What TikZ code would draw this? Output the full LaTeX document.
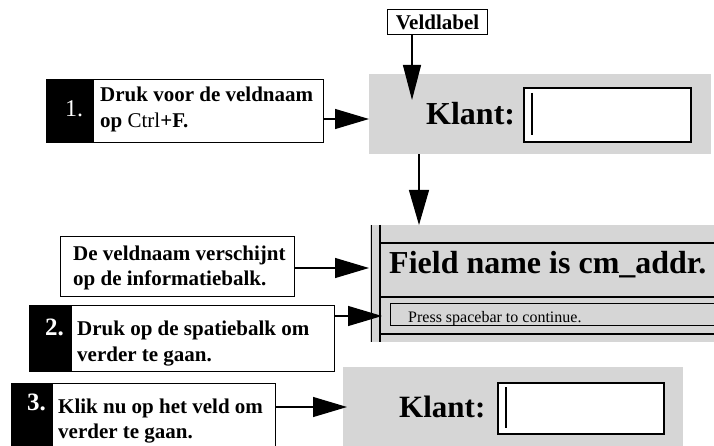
\documentclass[tikz,border=0pt]{standalone}
\usepackage{fontspec}
\setmainfont{Liberation Serif}
\usetikzlibrary{arrows.meta}
\definecolor{stip}{gray}{0.84}
\begin{document}
\begin{tikzpicture}[x=1pt,y=-1pt,
  bx/.style={draw=black, line width=1.2pt, fill=white, inner sep=0pt, anchor=north west},
  blk/.style={fill=black, draw=black, line width=1.2pt, inner sep=0pt, anchor=north west},
  gr/.style={fill=stip, inner sep=0pt, anchor=north west},
  fld/.style={draw=black, line width=1.6pt, fill=white, inner sep=0pt, anchor=north west},
  txt/.style={inner sep=0pt, anchor=base west, font=\fontsize{21}{25}\selectfont\bfseries},
  num/.style={inner sep=0pt, anchor=base west, text=white, font=\fontsize{25}{30}\selectfont\bfseries},
  big/.style={inner sep=0pt, anchor=base west, font=\fontsize{32}{38}\selectfont\bfseries},
  arr/.style={line width=1.2pt, -{Triangle[length=34pt,width=20pt]}},
  thin/.style={line width=1.3pt}
]
\useasboundingbox (0,0) rectangle (714,446);
\clip (0,0) rectangle (714,446);

% grey panels
\node[gr, minimum width=342pt, minimum height=80pt] (g1) at (369,74) {};
\node[gr, minimum width=344pt, minimum height=117pt] (ib) at (370,225) {};
\node[gr, minimum width=340pt, minimum height=82pt] (g3) at (343,367) {};

% Veldlabel
\node[bx, minimum width=100pt, minimum height=25pt, font=\fontsize{21}{25}\selectfont\bfseries, text depth=0pt] (vl) at (387,9) {Veldlabel};

% first Klant field
\node[big] (k1) at (426,125) {Klant:};
\node[fld, minimum width=167pt, minimum height=54pt] (f1) at (523,87) {};
\draw[thin] (532,93) -- (532,135);

% step 1
\node[blk, minimum width=47pt, minimum height=63pt] (b1k) at (46,79) {};
\node[bx, minimum width=230pt, minimum height=63pt] (b1) at (93,79) {};
\node[inner sep=0pt, anchor=base west, text=white, font=\fontsize{24}{28}\selectfont] (n1) at (65,117) {1.};
\node[txt] (t1a) at (100,102) {Druk voor de veldnaam};
\node[txt] (t1b) at (100,128) {op {\mdseries Ctrl}+F.};

% information bar
\draw[thin] (371.5,225) -- (371.5,342);
\draw[thin] (380,225) -- (380,342);
\draw[thin] (380,243) -- (714,243);
\draw[thin] (380,297) -- (714,297);
\draw[thin] (380,334) -- (714,334);
\node[draw=black, line width=1.4pt, inner sep=0pt, anchor=north west, minimum width=340pt, minimum height=22pt] (pb) at (390,303) {};
\node[big] (fn) at (389,273) {Field name is cm\_addr.};
\node[inner sep=0pt, anchor=base west, font=\fontsize{16}{19}\selectfont] (ps) at (408,322) {Press spacebar to continue.};

% De veldnaam box
\node[bx, minimum width=234pt, minimum height=60pt] (dv) at (60,236) {};
\node[txt] (dva) at (73,260) {De veldnaam verschijnt};
\node[txt] (dvb) at (73,285) {op de informatiebalk.};

% step 2
\node[blk, minimum width=42pt, minimum height=66pt] (b2k) at (29,305) {};
\node[bx, minimum width=263pt, minimum height=66pt] (b2) at (71,305) {};
\node[num] (n2) at (45,335) {2.};
\node[txt] (t2a) at (77,335) {Druk op de spatiebalk om};
\node[txt] (t2b) at (77,361) {verder te gaan.};

% step 3
\node[blk, minimum width=41pt, minimum height=70pt] (b3k) at (11,383) {};
\node[bx, minimum width=223pt, minimum height=70pt] (b3) at (52,383) {};
\node[num] (n3) at (27,410) {3.};
\node[txt] (t3a) at (58,413) {Klik nu op het veld om};
\node[txt] (t3b) at (58,438) {verder te gaan.};

% second Klant field
\node[big, font=\fontsize{31}{37}\selectfont\bfseries] (k3) at (399,417) {Klant:};
\node[fld, minimum width=166pt, minimum height=51pt] (f3) at (497,382) {};
\draw[thin] (506,387) -- (506,428);

% connectors
\coordinate (c0) at (412,100);
\draw[line width=1.2pt, -{Triangle[length=35pt,width=18pt]}] (vl.south -| c0) -- (c0);
\coordinate (c1) at (369,119);
\draw[arr] (b1.east |- c1) -- (c1);
\coordinate (c2) at (419,225);
\draw[line width=1.2pt, -{Triangle[length=35pt,width=20pt]}] (g1.south -| c2) -- (c2);
\coordinate (c3) at (369,268);
\draw[arr] (dv.east |- c3) -- (c3);
\coordinate (c4) at (382,316);
\draw[arr] (b2.east |- c4) -- (c4);
\coordinate (c5) at (347,407);
\draw[arr] (b3.east |- c5) -- (c5);
\end{tikzpicture}
\end{document}
